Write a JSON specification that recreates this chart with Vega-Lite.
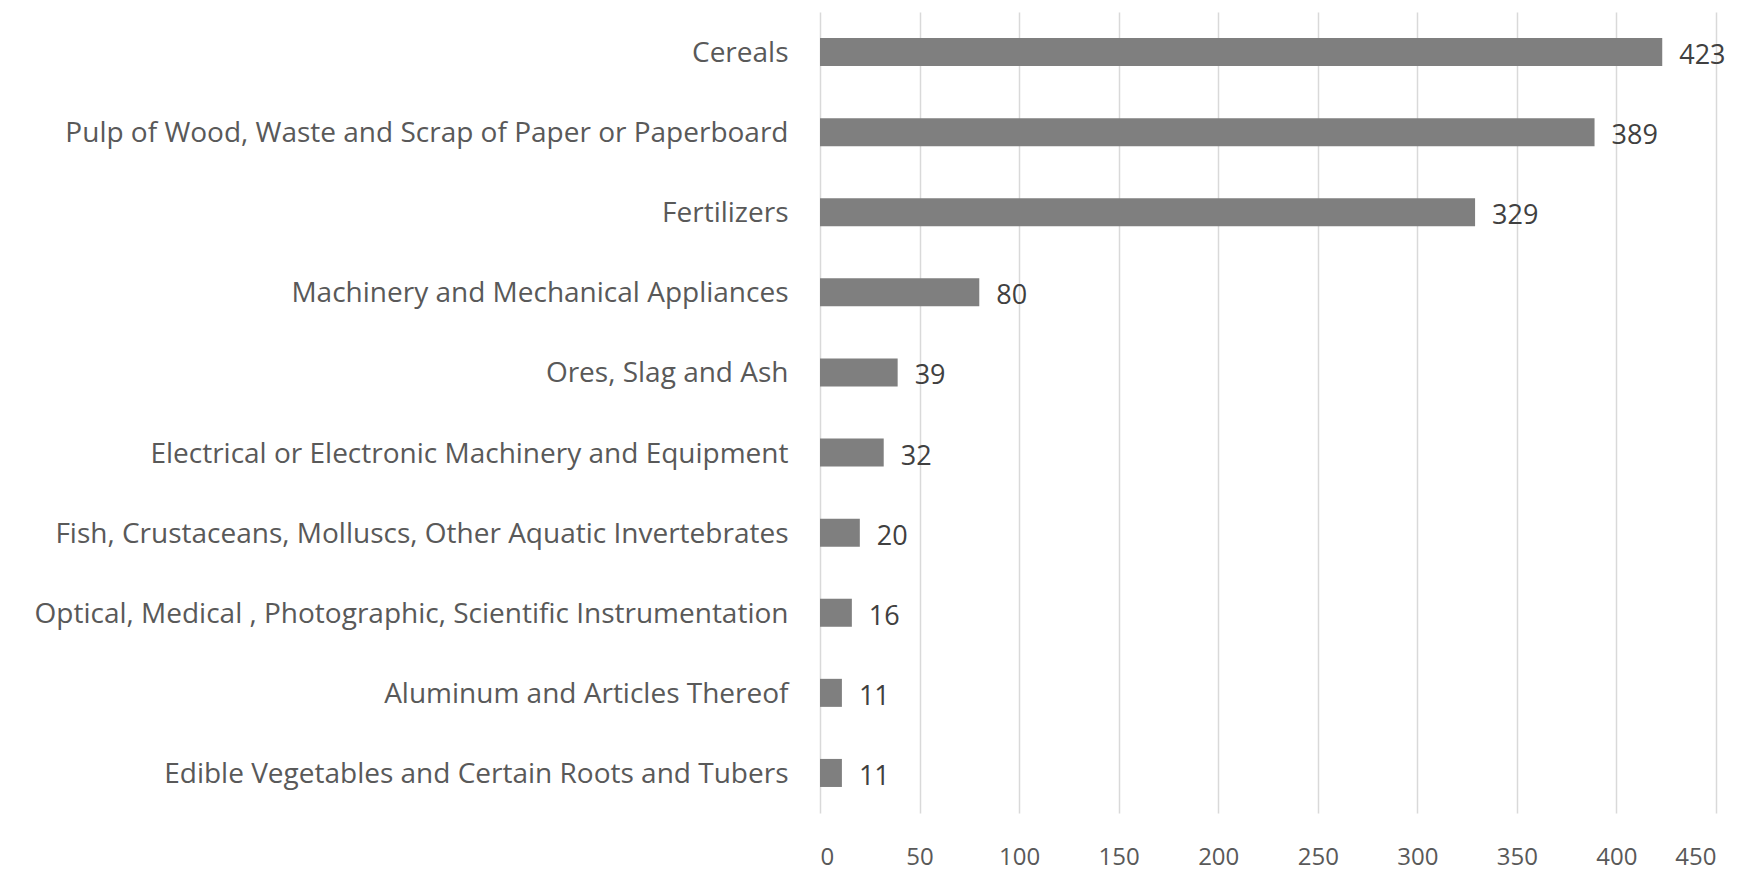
{
  "$schema": "https://vega.github.io/schema/vega-lite/v6.json",
  "width": 896,
  "height": 801,
  "autosize": {"type": "none"},
  "padding": {"left": 820, "top": 12, "right": 29, "bottom": 57},
  "background": "white",
  "data": {"values": [
    {"category": "Cereals", "value": 423},
    {"category": "Pulp of Wood,  Waste and Scrap of Paper or Paperboard", "value": 389},
    {"category": "Fertilizers", "value": 329},
    {"category": "Machinery and Mechanical Appliances", "value": 80},
    {"category": "Ores, Slag and Ash", "value": 39},
    {"category": "Electrical or Electronic Machinery and Equipment", "value": 32},
    {"category": "Fish, Crustaceans, Molluscs, Other Aquatic Invertebrates", "value": 20},
    {"category": "Optical,  Medical , Photographic, Scientific Instrumentation", "value": 16},
    {"category": "Aluminum and Articles Thereof", "value": 11},
    {"category": "Edible Vegetables and Certain Roots and Tubers", "value": 11}
  ]},
  "config": {
    "view": {"stroke": null},
    "font": "Open Sans"
  },
  "encoding": {
    "y": {
      "field": "category", "type": "nominal", "sort": null,
      "scale": {"paddingInner": 0.65, "paddingOuter": 0.325},
      "axis": {
        "title": null, "domain": false, "ticks": false,
        "labelFontSize": 28, "labelColor": "#595959", "labelPadding": 32,
        "labelLimit": 900, "labelFont": "Open Sans", "labelOffset": 2
      }
    },
    "x": {
      "field": "value", "type": "quantitative",
      "scale": {"domain": [0, 450], "nice": false},
      "axis": {
        "title": null, "values": [0, 50, 100, 150, 200, 250, 300, 350, 400, 450],
        "domain": false, "ticks": false, "grid": true, "gridColor": "#d9d9d9", "gridWidth": 1.5,
        "labelFontSize": 24, "labelColor": "#595959", "labelPadding": 32,
        "labelFont": "Open Sans"
      }
    }
  },
  "layer": [
    {"mark": {"type": "bar", "color": "#7f7f7f"}},
    {
      "mark": {"type": "text", "align": "left", "dx": 17, "dy": 4, "fontSize": 27, "color": "#404040", "font": "Open Sans"},
      "encoding": {"text": {"field": "value", "type": "quantitative"}}
    }
  ]
}
